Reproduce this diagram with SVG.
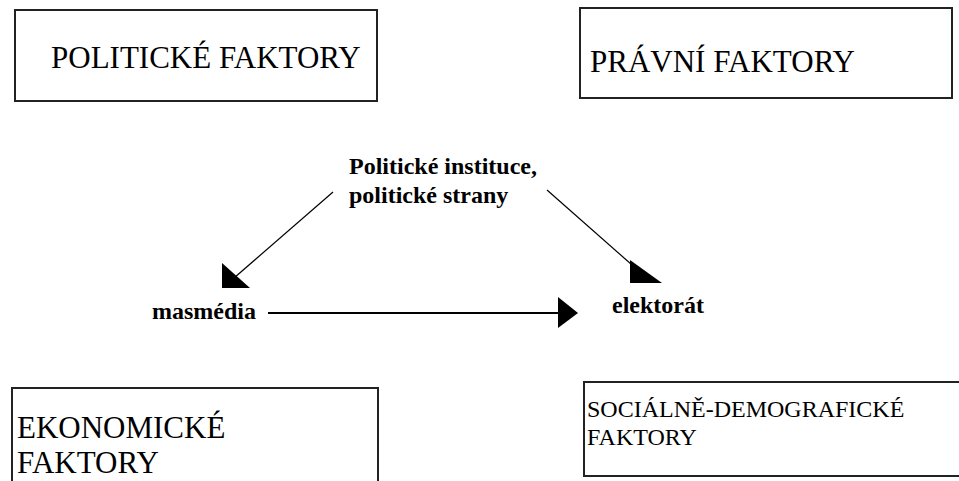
<svg xmlns="http://www.w3.org/2000/svg" width="959" height="481" viewBox="0 0 959 481" font-family="Liberation Serif, Times New Roman, Times, DejaVu Serif, Noto Serif, serif">
<style>
.box{fill:#fff;stroke:#222;stroke-width:2}
.big{font-size:31px;fill:#000}
.mid{font-size:24px;fill:#000}
.lbl{font-size:24px;font-weight:bold;fill:#000}
.ln{stroke:#000;fill:none}
.ah{fill:#000;stroke:none}
</style>
<rect width="959" height="481" fill="#fff"/>
<g id="politicke">
<rect class="box" x="15" y="10" width="362" height="91"/>
<text class="big" x="51" y="68" font-family="Liberation Serif, serif">POLITICKÉ FAKTORY</text>
</g>
<g id="pravni">
<rect class="box" x="580" y="8" width="372" height="90"/>
<text class="big" x="590" y="72">PRÁVNÍ FAKTORY</text>
</g>
<g id="ekonomicke">
<rect class="box" x="12" y="388" width="366" height="100"/>
<text class="big" x="17" y="438">EKONOMICKÉ</text>
<text class="big" x="17" y="473">FAKTORY</text>
</g>
<g id="socialne">
<rect class="box" x="584" y="382" width="380" height="94"/>
<text class="mid" x="587" y="417">SOCIÁLNĚ-DEMOGRAFICKÉ</text>
<text class="mid" x="587" y="445">FAKTORY</text>
</g>
<g id="instituce">
<text class="lbl" x="349" y="174">Politické instituce,</text>
<text class="lbl" x="349" y="203">politické strany</text>
</g>
<g id="masmedia">
<text class="lbl" x="152" y="319">masmédia</text>
</g>
<g id="elektorat">
<text class="lbl" x="612" y="313">elektorát</text>
</g>
<g id="connectors">
<line class="ln" x1="333" y1="192" x2="234" y2="278" stroke-width="1.2"/>
<polygon class="ah" points="222,263 222,288 250,288"/>
<line class="ln" x1="547" y1="190" x2="640" y2="272" stroke-width="1.2"/>
<polygon class="ah" points="630,260 630,283 662,283"/>
<line class="ln" x1="268" y1="313" x2="560" y2="313" stroke-width="2"/>
<polygon class="ah" points="558,297 558,328 578,313"/>
</g>
</svg>
